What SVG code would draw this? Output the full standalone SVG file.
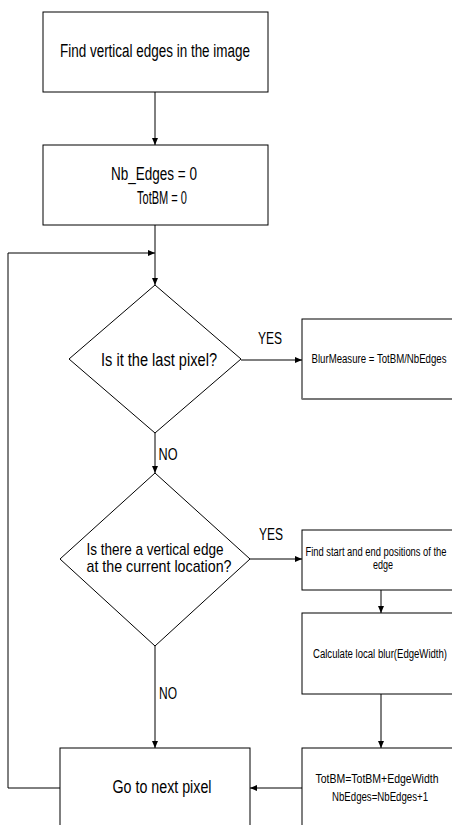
<svg xmlns="http://www.w3.org/2000/svg" width="452" height="825" viewBox="0 0 452 825">
<style>
.box{fill:#fff;stroke:#000;stroke-width:1}
.ln{fill:none;stroke:#000;stroke-width:1}
.t{font-family:"Liberation Sans Narrow","Liberation Sans",Arial,sans-serif;fill:#000;text-anchor:middle}
.big{font-size:18px}
.mid{font-size:17px}
.sm{font-size:12px}
.lbl{font-size:16px}
</style>
<defs>
<marker id="ah" markerWidth="7" markerHeight="6" refX="7" refY="3" orient="auto" markerUnits="userSpaceOnUse">
<path d="M0,0 L7,3 L0,6 Z" fill="#000"/>
</marker>
</defs>
<rect width="452" height="825" fill="#fff"/>

<g id="connectors">
<line class="ln" x1="155" y1="92" x2="155" y2="145" marker-end="url(#ah)"/>
<line class="ln" x1="155" y1="225" x2="155" y2="285" marker-end="url(#ah)"/>
<polyline class="ln" points="60,788 8,788 8,253 155,253" marker-end="url(#ah)"/>
<line class="ln" x1="241" y1="360" x2="302" y2="360" marker-end="url(#ah)"/>
<line class="ln" x1="155" y1="433" x2="155" y2="473" marker-end="url(#ah)"/>
<line class="ln" x1="250" y1="559" x2="302" y2="559" marker-end="url(#ah)"/>
<line class="ln" x1="381" y1="590" x2="381" y2="613" marker-end="url(#ah)"/>
<line class="ln" x1="381" y1="694" x2="381" y2="748" marker-end="url(#ah)"/>
<line class="ln" x1="155" y1="646" x2="155" y2="748" marker-end="url(#ah)"/>
<line class="ln" x1="302" y1="788" x2="250" y2="788" marker-end="url(#ah)"/>
<text class="t lbl" x="270" y="344" textLength="24" lengthAdjust="spacingAndGlyphs">YES</text>
<text class="t lbl" x="168" y="460" textLength="19" lengthAdjust="spacingAndGlyphs">NO</text>
<text class="t lbl" x="271" y="540" textLength="24" lengthAdjust="spacingAndGlyphs">YES</text>
<text class="t lbl" x="168" y="699" textLength="18" lengthAdjust="spacingAndGlyphs">NO</text>
</g>

<g id="find-edges">
<rect class="box" x="43" y="12" width="225" height="80"/>
<text class="t big" x="155" y="57" textLength="190" lengthAdjust="spacingAndGlyphs">Find vertical edges in the image</text>
</g>

<g id="init">
<rect class="box" x="43" y="145" width="225" height="80"/>
<text class="t big" x="154" y="180" textLength="86" lengthAdjust="spacingAndGlyphs">Nb_Edges = 0</text>
<text class="t big" x="162" y="204" textLength="50" lengthAdjust="spacingAndGlyphs">TotBM = 0</text>
</g>

<g id="last-pixel">
<polygon class="box" points="155,285 241,359 155,433 69,359"/>
<text class="t big" x="159" y="366" textLength="116" lengthAdjust="spacingAndGlyphs">Is it the last pixel?</text>
</g>

<g id="blur-measure">
<rect class="box" x="302" y="319" width="170" height="80"/>
<line x1="302" y1="399" x2="452" y2="399" stroke="#777" stroke-width="2"/>
<text class="t sm" x="379" y="363" textLength="135" lengthAdjust="spacingAndGlyphs">BlurMeasure = TotBM/NbEdges</text>
</g>

<g id="vertical-edge">
<polygon class="box" points="155,473 250,559 155,646 60,559"/>
<text class="t mid" x="155" y="555" textLength="137" lengthAdjust="spacingAndGlyphs">Is there a vertical edge</text>
<text class="t mid" x="159" y="572" textLength="145" lengthAdjust="spacingAndGlyphs">at the current location?</text>
</g>

<g id="find-positions">
<rect class="box" x="302" y="530" width="170" height="60"/>
<text class="t sm" x="376" y="556" textLength="141" lengthAdjust="spacingAndGlyphs">Find start and end positions of the</text>
<text class="t sm" x="383" y="569" textLength="20" lengthAdjust="spacingAndGlyphs">edge</text>
</g>

<g id="local-blur">
<rect class="box" x="302" y="613" width="170" height="81"/>
<text class="t sm" x="380" y="658" textLength="134" lengthAdjust="spacingAndGlyphs">Calculate local blur(EdgeWidth)</text>
</g>

<g id="update">
<rect class="box" x="302" y="748" width="170" height="100"/>
<text class="t sm" x="377" y="783" textLength="123" lengthAdjust="spacingAndGlyphs">TotBM=TotBM+EdgeWidth</text>
<text class="t sm" x="380" y="801" textLength="96" lengthAdjust="spacingAndGlyphs">NbEdges=NbEdges+1</text>
</g>

<g id="next-pixel">
<rect class="box" x="60" y="748" width="190" height="100"/>
<text class="t big" x="162" y="793" textLength="99" lengthAdjust="spacingAndGlyphs">Go to next pixel</text>
</g>
</svg>
